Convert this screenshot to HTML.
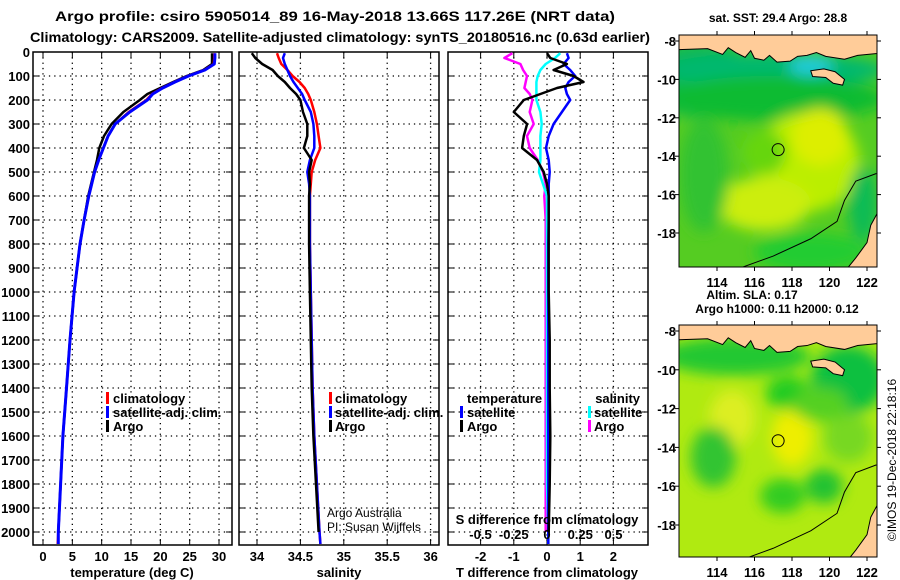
<!DOCTYPE html>
<html><head><meta charset="utf-8"><style>
html,body{margin:0;padding:0;background:#fff;}
svg{display:block;font-family:"Liberation Sans",Arial,sans-serif;}
</style></head>
<body>
<svg id="root" width="900" height="580" viewBox="0 0 900 580" xmlns="http://www.w3.org/2000/svg">
<defs>
<filter id="blur" x="-50%" y="-50%" width="200%" height="200%"><feGaussianBlur stdDeviation="7"/></filter>
<clipPath id="clipMap1"><rect x="679" y="35" width="198" height="232"/></clipPath>
<clipPath id="clipMap2"><rect x="679" y="325" width="198" height="232"/></clipPath>
</defs>
<text font-weight="bold" x="335" y="21" font-size="14" text-anchor="middle" textLength="560" lengthAdjust="spacingAndGlyphs">Argo profile: csiro 5905014_89 16-May-2018 13.66S 117.26E (NRT data)</text>
<text font-weight="bold" x="340" y="42" font-size="14" text-anchor="middle" textLength="620" lengthAdjust="spacingAndGlyphs">Climatology: CARS2009. Satellite-adjusted climatology: synTS_20180516.nc (0.63d earlier)</text>
<g id="panels"></g>
<g id="maps"></g>
<text font-size="12" transform="translate(896,460) rotate(-90)" text-anchor="middle">©IMOS 19-Dec-2018 22:18:16</text>
</svg>
<script>
// ---- data ----
const depths = [5,25,50,75,100,125,150,175,200,250,300,350,400,450,500,550,600,700,800,1000,1200,1400,1600,1800,2000,2050];
const tempClim = [29.2,29.2,29.1,27.5,24.7,22.4,20.3,18.6,17.6,14.6,12.3,11.1,10.3,9.5,8.8,8.3,7.8,7.0,6.3,5.3,4.6,4.0,3.4,3.0,2.6,2.5];
const tempSat  = [29.3,29.3,29.2,27.6,24.8,22.5,20.4,18.7,17.8,14.8,12.3,11.1,10.3,9.5,8.8,8.3,7.8,7.0,6.3,5.3,4.6,4.0,3.4,3.0,2.6,2.6];
const tempArgo = [28.8,28.8,28.8,27.3,24.5,22.2,20.0,17.8,16.5,13.7,11.7,10.4,9.6,9.2,8.7,8.2,7.7,7.0,6.3,5.3,4.6,4.0,3.4,3.0,2.6,null];
const salClim = [34.23,34.25,34.28,34.35,34.41,34.49,34.55,34.59,34.62,34.66,34.69,34.71,34.73,34.67,34.63,34.62,34.61,34.61,34.61,34.62,34.63,34.64,34.66,34.69,34.72,34.73];
const salSat  = [34.32,34.30,34.32,34.35,34.38,34.42,34.47,34.52,34.55,34.62,34.65,34.66,34.66,34.61,34.58,34.60,34.61,34.61,34.61,34.62,34.63,34.64,34.66,34.69,34.72,34.73];
const salArgo = [33.94,33.98,34.06,34.18,34.24,34.32,34.38,34.45,34.50,34.53,34.58,34.58,34.54,34.63,34.60,34.61,34.60,34.60,34.60,34.61,34.62,34.63,34.65,34.68,34.71,null];
const tDiffArgo = [0,0.1,0.6,0.2,0.8,1.1,0.3,-0.2,-0.7,-1.0,-0.6,-0.7,-0.75,-0.3,-0.1,0,0.05,0.05,0.05,0.05,0.08,0.08,0.1,0.08,0.05,null];
const tDiffSat  = [0.6,0.65,0.5,0.7,0.85,0.65,0.55,0.6,0.7,0.45,0.2,0.05,-0.03,0.05,0.08,0.05,0.05,0.05,0.04,0.04,0.04,0.04,0.04,0.04,0.04,0.04];
const sDiffArgo = [-0.26,-0.32,-0.2,-0.18,-0.15,-0.16,-0.17,-0.13,-0.11,-0.13,-0.1,-0.15,-0.13,-0.07,-0.03,-0.01,-0.02,-0.01,-0.01,-0.01,-0.01,-0.01,-0.01,-0.01,-0.01,null];
const sDiffSat  = [0.1,0.06,-0.01,-0.05,-0.07,-0.08,-0.08,-0.08,-0.08,-0.05,-0.04,-0.05,-0.05,-0.05,-0.06,-0.03,0,0,0,0,0,0,0,0,0.01,0.01];
const depthTicks = [0,100,200,300,400,500,600,700,800,900,1000,1100,1200,1300,1400,1500,1600,1700,1800,1900,2000];
const tempTicks = [0,5,10,15,20,25,30];
const salTicks = [34,34.5,35,35.5,36];
const salTickLabels = ["34","34.5","35","35.5","36"];
const tDiffTicks = [-2,-1,0,1,2];
const sDiffTicks = [-0.5,-0.25,0,0.25,0.5];
const sDiffTickLabels = ["-0.5","-0.25","0","0.25","0.5"];
const lonTicks = [114,116,118,120,122];
const latTicks = [-8,-10,-12,-14,-16,-18];

const NS="http://www.w3.org/2000/svg";
function mk(tag, attrs, parent){const e=document.createElementNS(NS,tag);for(const k in attrs)e.setAttribute(k,attrs[k]);(parent||document.getElementById('root')).appendChild(e);return e;}
const yD = d => 52 + d*0.24;
const PT=52, PB=545;
const xT = v => 43 + v*5.867;
const xS = v => 257 + (v-34)*86.8;
const xTD = v => 547 + v*33.2;
const xSD = v => 547 + v*133;
const panels = document.getElementById('panels');

function frame(name, x0, x1, gridVals, xf){
  const g = mk('g',{},panels);
  
  
  depthTicks.forEach(d=>{ if(d>0){ mk('line',{x1:x0,x2:x1,y1:yD(d),y2:yD(d),stroke:'#000','stroke-width':1.3,'stroke-dasharray':'1.3 4'},g);}
    mk('line',{x1:x0,x2:x0+6,y1:yD(d),y2:yD(d),stroke:'#000'},g);
    mk('line',{x1:x1-6,x2:x1,y1:yD(d),y2:yD(d),stroke:'#000'},g);});
  gridVals.forEach(v=>{const x=xf(v);
    mk('line',{x1:x,x2:x,y1:PT,y2:PB,stroke:'#000','stroke-width':1.3,'stroke-dasharray':'1.3 4'},g);
    mk('line',{x1:x,x2:x,y1:PB-6,y2:PB,stroke:'#000'},g);
    mk('line',{x1:x,x2:x,y1:PT,y2:PT+6,stroke:'#000'},g);});
  const r = mk('rect',{x:x0,y:PT,width:x1-x0,height:PB-PT,fill:'none',stroke:'#000','stroke-width':1.5},g);
  
  
  return g;
}
function line(g, vals, xf, color, w, name){
  let pts=[];
  vals.forEach((v,i)=>{ if(v!==null) pts.push(xf(v).toFixed(1)+','+yD(depths[i]).toFixed(1)); });
  const p = mk('polyline',{points:pts.join(' '),fill:'none',stroke:color,'stroke-width':w,'stroke-linejoin':'round'},g);
  
  
}
function txt(g, s, x, y, size, anchor, bold, name){
  const t = mk('text',{x:x,y:y,'font-size':size,'text-anchor':anchor||'start','font-weight':bold?'bold':'normal'},g);
  t.textContent = s;
  
  
  return t;
}
function legendMark(g, x, y, color, name){
  const r = mk('rect',{x:x,y:y-10,width:3,height:12,fill:color},g);
  
  
}

depthTicks.forEach(d=>{ txt(panels, String(d), 30, yD(d)+5, 13, 'end', true, 'depth-tick-label'); });

// Panel 1
const g1 = frame('temperature-panel', 33, 232, tempTicks, xT);
line(g1, tempArgo, xT, '#000', 2.5, 'temperature-argo-line');
line(g1, tempClim, xT, '#f00', 2.5, 'temperature-climatology-line');
line(g1, tempSat, xT, '#00f', 3, 'temperature-satellite-line');
tempTicks.forEach(v=> txt(g1, String(v), xT(v), 561, 13, 'middle', true, 'temperature-tick-label'));
txt(g1, 'temperature (deg C)', 132, 577, 13, 'middle', true, 'temperature-axis-title');
legendMark(g1, 106, 402, '#f00', 'legend-climatology-marker');
txt(g1, 'climatology', 113, 403, 13, 'start', true, 'legend-climatology');
legendMark(g1, 106, 416, '#00f', 'legend-satellite-marker');
txt(g1, 'satellite-adj. clim.', 113, 417, 13, 'start', true, 'legend-satellite-adj');
legendMark(g1, 106, 430, '#000', 'legend-argo-marker');
txt(g1, 'Argo', 113, 431, 13, 'start', true, 'legend-argo');

// Panel 2
const g2 = frame('salinity-panel', 239, 439, salTicks, xS);
line(g2, salClim, xS, '#f00', 2.5, 'salinity-climatology-line');
line(g2, salSat, xS, '#00f', 2.5, 'salinity-satellite-line');
line(g2, salArgo, xS, '#000', 2.5, 'salinity-argo-line');
salTicks.forEach((v,i)=> txt(g2, salTickLabels[i], xS(v), 561, 13, 'middle', true, 'salinity-tick-label'));
txt(g2, 'salinity', 339, 577, 13, 'middle', true, 'salinity-axis-title');
legendMark(g2, 329, 402, '#f00', 'legend-climatology-marker');
txt(g2, 'climatology', 335, 403, 13, 'start', true, 'legend-climatology');
legendMark(g2, 329, 416, '#00f', 'legend-satellite-marker');
txt(g2, 'satellite-adj. clim.', 335, 417, 13, 'start', true, 'legend-satellite-adj');
legendMark(g2, 329, 430, '#000', 'legend-argo-marker');
txt(g2, 'Argo', 335, 431, 13, 'start', true, 'legend-argo');
txt(g2, 'Argo Australia', 327, 517, 12, 'start', false, 'credit-argo-australia');
txt(g2, 'PI: Susan Wijffels', 327, 531, 12, 'start', false, 'credit-pi');

// Panel 3
const g3 = frame('difference-panel', 448, 648, tDiffTicks, xTD);
line(g3, sDiffArgo, xSD, '#f0f', 2.5, 'salinity-diff-argo-line');
line(g3, sDiffSat, xSD, '#0ff', 2.5, 'salinity-diff-satellite-line');
line(g3, tDiffSat, xTD, '#00f', 2.5, 'temperature-diff-satellite-line');
line(g3, tDiffArgo, xTD, '#000', 2.5, 'temperature-diff-argo-line');
tDiffTicks.forEach(v=> txt(g3, String(v), xTD(v), 561, 13, 'middle', true, 't-diff-tick-label'));
txt(g3, 'T difference from climatology', 547, 577, 13, 'middle', true, 't-diff-axis-title');
txt(g3, 'S difference from climatology', 547, 524, 13, 'middle', true, 's-diff-axis-title');
sDiffTicks.forEach((v,i)=> txt(g3, sDiffTickLabels[i], xSD(v), 539, 13, 'middle', true, 's-diff-tick-label'));
txt(g3, 'temperature', 467, 403, 13, 'start', true, 'legend-temperature-heading');
legendMark(g3, 460, 416, '#00f', 'legend-t-satellite-marker');
txt(g3, 'satellite', 467, 417, 13, 'start', true, 'legend-t-satellite');
legendMark(g3, 460, 430, '#000', 'legend-t-argo-marker');
txt(g3, 'Argo', 467, 431, 13, 'start', true, 'legend-t-argo');
txt(g3, 'salinity', 640, 403, 13, 'end', true, 'legend-salinity-heading');
legendMark(g3, 588, 416, '#0ff', 'legend-s-satellite-marker');
txt(g3, 'satellite', 594, 417, 13, 'start', true, 'legend-s-satellite');
legendMark(g3, 588, 430, '#f0f', 'legend-s-argo-marker');
txt(g3, 'Argo', 594, 431, 13, 'start', true, 'legend-s-argo');

// ---- maps ----
const maps = document.getElementById('maps');
function drawMap(name, top, lat8y, lat18y, clip, blobs, base, title1, title2, t1y, t2y, t1x){
  const g = mk('g',{},maps);
  
  
  const lx = l => 717 + (l-114)*18.75;
  const ly = la => lat8y + (-8-la)*(lat18y-lat8y)/10;
  const cg = mk('g',{'clip-path':'url(#'+clip+')'},g);
  mk('rect',{x:679,y:top,width:198,height:232,fill:base},cg);
  const bg = mk('g',{filter:'url(#blur)'},cg);
  blobs.forEach(b=> mk('ellipse',{cx:lx(b[0]),cy:ly(b[1]),rx:b[2]*18.75,ry:b[3]*19,fill:b[4]},bg));
  mk('path',{d:`M${lx(115.3)},${ly(-19.8)} L${lx(117)},${ly(-19.2)} L${lx(119)},${ly(-18.3)} L${lx(120.4)},${ly(-17.4)} L${lx(120.8)},${ly(-16.3)} L${lx(121.4)},${ly(-15.3)} L${lx(122.5)},${ly(-14.9)}`,fill:'none',stroke:'#000','stroke-width':1},cg);
  const land = mk('path',{d:`M679,${top} L877,${top} L877,${ly(-8.65)} L${lx(121.5)},${ly(-8.75)} L${lx(120.8)},${ly(-8.95)} L${lx(119.8)},${ly(-8.8)} L${lx(119.3)},${ly(-8.6)} L${lx(118.8)},${ly(-8.75)} L${lx(118.3)},${ly(-8.8)} L${lx(117.9)},${ly(-9.05)} L${lx(117.2)},${ly(-9.1)} L${lx(116.8)},${ly(-8.75)} L${lx(116.5)},${ly(-9.0)} L${lx(116)},${ly(-8.9)} L${lx(115.8)},${ly(-8.5)} L${lx(115.5)},${ly(-8.85)} L${lx(115.0)},${ly(-8.6)} L${lx(114.6)},${ly(-8.35)} L${lx(114.3)},${ly(-8.7)} L${lx(113.5)},${ly(-8.4)} L679,${ly(-8.45)} Z`,fill:'#ffcc99',stroke:'#000','stroke-width':1},cg);
  
  
  const sumba = mk('path',{d:`M${lx(119)},${ly(-9.55)} L${lx(119.7)},${ly(-9.45)} L${lx(120.3)},${ly(-9.6)} L${lx(120.8)},${ly(-10.0)} L${lx(120.7)},${ly(-10.3)} L${lx(120.2)},${ly(-10.2)} L${lx(119.8)},${ly(-9.9)} L${lx(119.1)},${ly(-9.85)} Z`,fill:'#ffcc99',stroke:'#000','stroke-width':1},cg);
  
  
  const aus = mk('path',{d:`M877,${ly(-17.0)} L${lx(122.2)},${ly(-17.6)} L${lx(122.0)},${ly(-18.5)} L${lx(121.4)},${ly(-19.3)} L${lx(120.9)},${ly(-19.9)} L877,${ly(-19.9)} Z`,fill:'#ffcc99',stroke:'#000','stroke-width':1},cg);
  
  
  const fl = mk('circle',{cx:lx(117.26),cy:ly(-13.66),r:6,fill:'none',stroke:'#000','stroke-width':1},cg);
  
  
  const br = mk('rect',{x:679,y:top,width:198,height:232,fill:'none',stroke:'#000','stroke-width':1},g);
  
  
  lonTicks.forEach(l=>{ mk('line',{x1:lx(l),x2:lx(l),y1:top,y2:top-4,stroke:'#000'},g);
    mk('line',{x1:lx(l),x2:lx(l),y1:top+232,y2:top+236,stroke:'#000'},g);
    txt(g, String(l), lx(l), top+252, 13, 'middle', true, 'longitude-tick-label'); });
  latTicks.forEach(la=>{ mk('line',{x1:675,x2:679,y1:ly(la),y2:ly(la),stroke:'#000'},g);
    mk('line',{x1:877,x2:881,y1:ly(la),y2:ly(la),stroke:'#000'},g);
    txt(g, String(la), 676, ly(la)+5, 13, 'end', true, 'latitude-tick-label'); });
  txt(g, title1, t1x, t1y, 12, 'middle', true, 'map-title');
  if(title2) txt(g, title2, 777, t2y, 12, 'middle', true, 'map-subtitle');
}
drawMap('sst-map', 35, 41, 233, 'clipMap1', [
  [113,-10,3,2,'#11b855'],[117,-9.5,6,0.9,'#00b870'],[119,-9.3,1.2,0.5,'#22ccdd'],
  [117,-11,6,1.2,'#11bb33'],[118.8,-14.3,2.8,2.6,'#bbee00'],[116.5,-16.5,2.5,1.4,'#ccee11'],
  [119.5,-13,1.5,1.5,'#ddee00'],[113.3,-15,1.3,3,'#33c233'],[116.5,-13.8,1.2,1.2,'#66d611'],
  [119,-19,3,1.0,'#22cc33'],[121.8,-16.5,0.8,2,'#11bb55']
], '#55cc22', 'sat. SST: 29.4 Argo: 28.8', null, 22, 0, 778);
drawMap('sla-map', 325, 331, 525, 'clipMap2', [
  [115,-9.3,4,1.0,'#22c833'],[121,-10.5,2,1.8,'#11c040'],[117.8,-11.2,1.2,0.9,'#22cc22'],
  [114.8,-12.5,1.2,1.5,'#ddee22'],[118,-13.5,1.1,1.5,'#eeee00'],
  [113.8,-14.5,1.2,1.6,'#33c433'],[117.5,-16.5,1.2,0.9,'#33cc22'],[119.7,-16,1,0.9,'#22c233'],
  [121,-13.5,1.3,1.3,'#77d822'],[119.5,-11.8,1.5,0.9,'#55d022']
], '#b0ea11', 'Altim. SLA: 0.17', 'Argo h1000: 0.11 h2000: 0.12', 299, 313, 752);
</script>
</body></html>
